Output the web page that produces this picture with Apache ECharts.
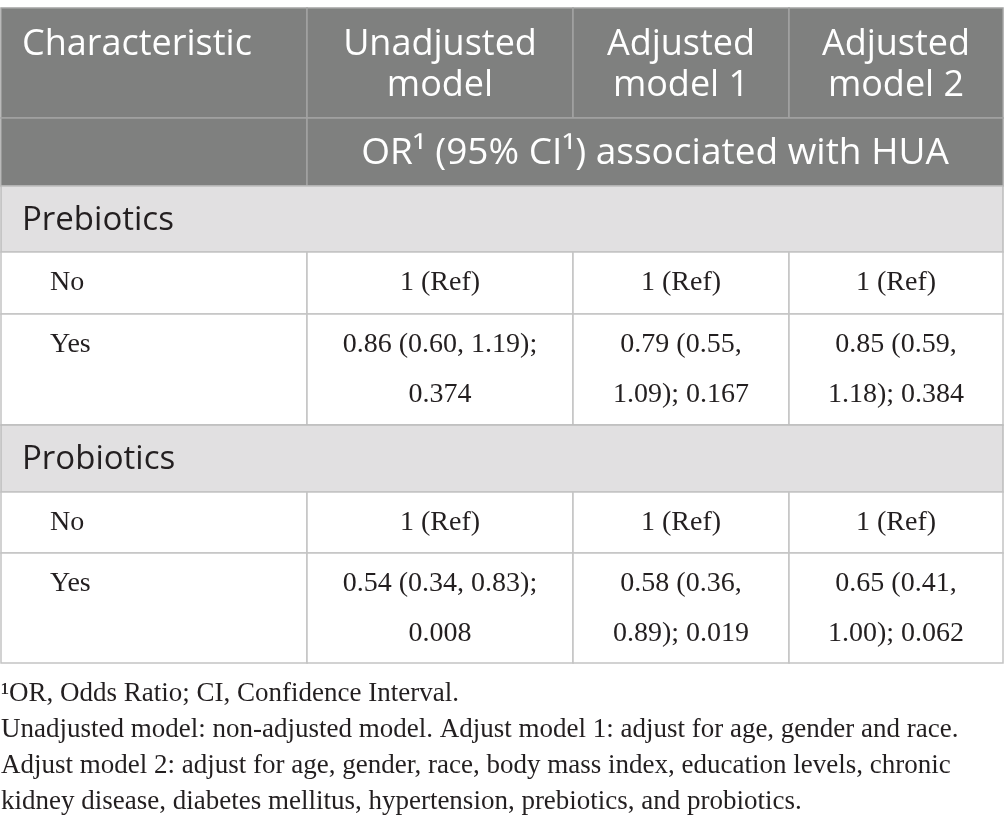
<!DOCTYPE html>
<html>
<head>
<meta charset="utf-8">
<script src="https://cdn.jsdelivr.net/npm/echarts@6/dist/echarts.min.js"></script>
<style>
  html, body { margin: 0; padding: 0; background: #ffffff; }
  #main { width: 1005px; height: 832px; }
</style>
</head>
<body>
<div id="main"></div>
<script>
// table content
var headers = ['Characteristic', 'Unadjusted\nmodel', 'Adjusted\nmodel 1', 'Adjusted\nmodel 2'];
var subHeader = 'OR\u00b9 (95% CI\u00b9) associated with HUA';
var groups = ['Prebiotics', 'Probiotics'];
var levels = ['No', 'Yes'];
var refText = '1 (Ref)';

// odds ratio, CI and p value per model (unadjusted, model 1, model 2)
var preOR = [0.86, 0.79, 0.85];
var preLow = [0.60, 0.55, 0.59];
var preHigh = [1.19, 1.09, 1.18];
var preP = ['0.374', '0.167', '0.384'];

var proOR = [0.54, 0.58, 0.65];
var proLow = [0.34, 0.36, 0.41];
var proHigh = [0.83, 0.89, 1.00];
var proP = ['0.008', '0.019', '0.062'];

var footnotes = [
    '\u00b9OR, Odds Ratio; CI, Confidence Interval.',
    'Unadjusted model: non-adjusted model. Adjust model 1: adjust for age, gender and race.',
    'Adjust model 2: adjust for age, gender, race, body mass index, education levels, chronic',
    'kidney disease, diabetes mellitus, hypertension, prebiotics, and probiotics.'
];

// layout
var colEdges = [1, 307, 573, 789, 1003];
var rowEdges = [8, 118, 186, 252, 314, 425, 492, 553, 663];

var serif = '"Liberation Serif", "DejaVu Serif", serif';
var sans = '"Open Sans", "Noto Sans", sans-serif';

var styles = {
    head:  { fill: '#7f807f', stroke: '#a3a3a3', color: '#ffffff', font: '36px ' + sans, lh: 41, first: 37 },
    sub:   { fill: '#7f807f', stroke: '#a3a3a3', color: '#ffffff', font: '37px ' + sans, lh: 41, first: 35 },
    group: { fill: '#e1e0e1', stroke: '#bcbcbc', color: '#231f20', font: '33px ' + sans, lh: 41, first: 35 },
    body:  { fill: '#ffffff', stroke: '#c4c4c4', color: '#231f20', font: '28px ' + serif, lh: 50, first: 31 }
};

function fmt(or, lo, hi, p, col) {
    // first column is wider, so it breaks before the p value
    if (col === 0) {
        return or.toFixed(2) + ' (' + lo.toFixed(2) + ', ' + hi.toFixed(2) + ');\n' + p;
    }
    return or.toFixed(2) + ' (' + lo.toFixed(2) + ',\n' + hi.toFixed(2) + '); ' + p;
}

var cells = [];
function addCell(c0, c1, r, text, kind, align, indent) {
    cells.push({ c0: c0, c1: c1, r: r, text: text, kind: kind, align: align || 'center', indent: indent || 0 });
}

headers.forEach(function (h, i) {
    addCell(i, i + 1, 0, h, 'head', i === 0 ? 'left' : 'center', 21);
});
addCell(0, 1, 1, '', 'sub');
addCell(1, 4, 1, subHeader, 'sub');

var blocks = [
    [preOR, preLow, preHigh, preP],
    [proOR, proLow, proHigh, proP]
];
groups.forEach(function (g, gi) {
    var r0 = 2 + gi * 3;
    addCell(0, 4, r0, g, 'group', 'left', 21);
    addCell(0, 1, r0 + 1, levels[0], 'body', 'left', 49);
    addCell(0, 1, r0 + 2, levels[1], 'body', 'left', 49);
    var b = blocks[gi];
    for (var k = 0; k < 3; k++) {
        addCell(k + 1, k + 2, r0 + 1, refText, 'body');
        addCell(k + 1, k + 2, r0 + 2, fmt(b[0][k], b[1][k], b[2][k], b[3][k], k), 'body');
    }
});

function renderCell(params, api) {
    var cell = cells[params.dataIndex];
    var st = styles[cell.kind];
    var p0 = api.coord([colEdges[cell.c0], rowEdges[cell.r]]);
    var p1 = api.coord([colEdges[cell.c1], rowEdges[cell.r + 1]]);
    var x = p0[0], y = p0[1], w = p1[0] - p0[0], h = p1[1] - p0[1];
    var tx = cell.align === 'left' ? x + cell.indent : x + w / 2;
    return {
        type: 'group',
        children: [
            {
                type: 'rect',
                shape: { x: x, y: y, width: w, height: h },
                style: { fill: st.fill, stroke: st.stroke, lineWidth: 1.5 }
            },
            {
                type: 'text',
                style: {
                    text: cell.text,
                    x: tx,
                    y: y + st.first - st.lh / 2,
                    font: st.font,
                    fill: st.color,
                    align: cell.align,
                    verticalAlign: 'top',
                    lineHeight: st.lh
                }
            }
        ]
    };
}

var footTop = rowEdges[rowEdges.length - 1] + 31;
var footGraphics = footnotes.map(function (t, i) {
    return {
        type: 'text',
        x: 1,
        y: footTop + i * 36,
        style: {
            text: t,
            font: '27px ' + serif,
            fill: '#231f20',
            verticalAlign: 'middle'
        }
    };
});

var myChart = echarts.init(document.getElementById('main'));
var option = {
    animation: false,
    grid: { left: 0, right: 0, top: 0, bottom: 0 },
    xAxis: { type: 'value', min: 0, max: 1005, show: false },
    yAxis: { type: 'value', min: 0, max: 832, inverse: true, show: false },
    graphic: footGraphics,
    series: [{
        type: 'custom',
        renderItem: renderCell,
        data: cells.map(function (c, i) { return [c.c0, c.r, i]; }),
        silent: true
    }]
};
myChart.setOption(option);
</script>
</body>
</html>
